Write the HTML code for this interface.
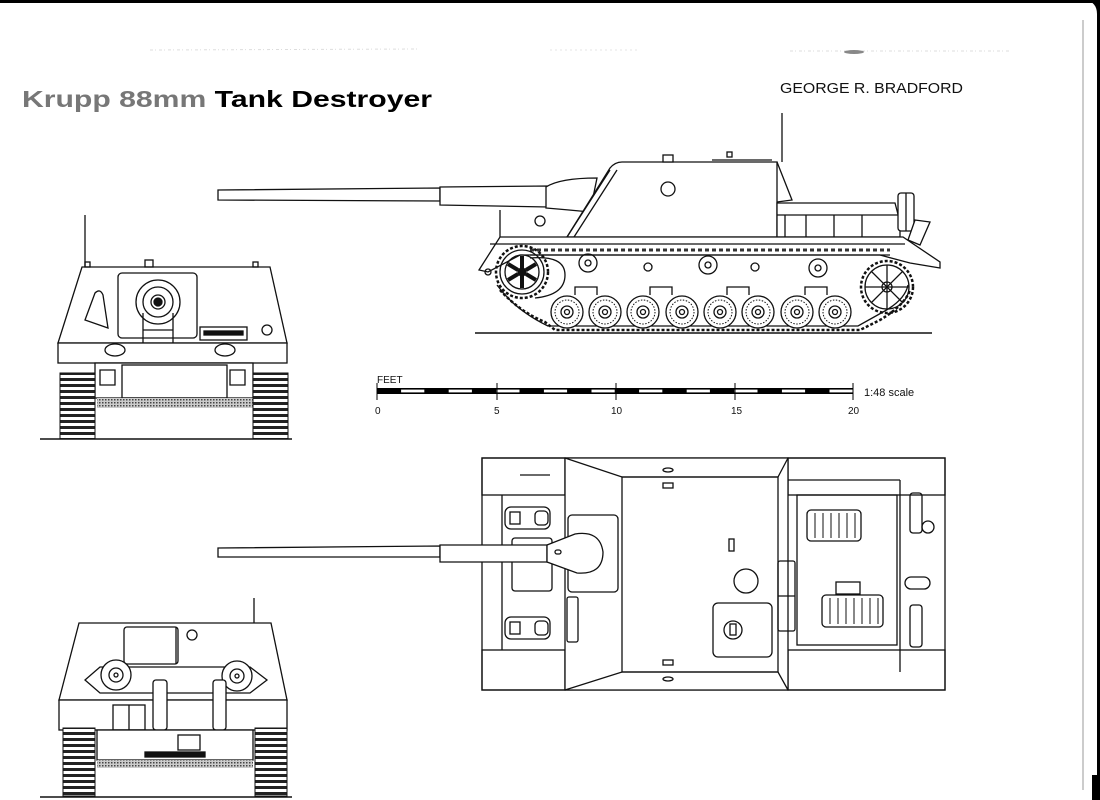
<!DOCTYPE html>
<html><head><meta charset="utf-8"><style>
html,body{margin:0;padding:0;background:#fff;width:1100px;height:800px;overflow:hidden}
svg{display:block}
</style></head><body>
<svg width="1100" height="800" viewBox="0 0 1100 800" xmlns="http://www.w3.org/2000/svg" font-family="Liberation Sans, sans-serif">
<defs>
<pattern id="trk" width="6" height="6" patternUnits="userSpaceOnUse">
<rect width="6" height="6" fill="#fff"/><rect y="0" width="6" height="3" fill="#222"/>
</pattern>
<pattern id="hatch" width="3" height="3" patternUnits="userSpaceOnUse">
<rect width="3" height="3" fill="#ccc"/><rect width="1.5" height="1.5" fill="#444"/>
</pattern>
</defs>
<rect width="1100" height="800" fill="#fff"/>
<rect x="0" y="0" width="1100" height="3" fill="#000"/>
<path d="M1085 0 Q1097 2 1097 14 L1097 800 L1100 800 L1100 0 Z" fill="#000"/>
<line x1="1083" y1="20" x2="1083" y2="790" stroke="#999" stroke-width="1"/>
<rect x="1092" y="775" width="8" height="25" fill="#000"/>
<line x1="150" y1="50" x2="420" y2="49" stroke="#ddd" stroke-width="1" stroke-dasharray="3 2 1 3"/>
<line x1="550" y1="50" x2="640" y2="50" stroke="#e4e4e4" stroke-width="1" stroke-dasharray="2 3"/>
<line x1="790" y1="51" x2="1010" y2="51" stroke="#ddd" stroke-width="1" stroke-dasharray="3 2 1 3"/>
<ellipse cx="854" cy="52" rx="10" ry="2" fill="#888"/>
<text x="22" y="107" font-size="23" font-weight="bold" textLength="410" lengthAdjust="spacingAndGlyphs"><tspan fill="#777">Krupp 88mm </tspan><tspan fill="#000">Tank Destroyer</tspan></text>
<text x="780" y="93" font-size="15" fill="#111" textLength="183" lengthAdjust="spacingAndGlyphs">GEORGE R. BRADFORD</text>

<g fill="none" stroke="#111" stroke-width="1.3">
<line x1="475" y1="333" x2="932" y2="333" stroke-width="1.6"/>
<line x1="782" y1="113" x2="782" y2="162"/>
<path d="M218 190 L440 188 L440 201 L218 200 Z" fill="#fff"/>
<path d="M440 187 L548 186 L548 207 L440 205 Z" fill="#fff"/>
<path d="M546 187 Q560 178 597 178 L590 212 Q570 210 546 208 Z" fill="#fff"/>
<path d="M622 162 L777 162 L777 237 L567 237 L610 168 Q615 162 622 162 Z" fill="#fff"/>
<line x1="567" y1="237" x2="610" y2="170"/><line x1="574" y1="237" x2="617" y2="170"/>
<path d="M777 162 L792 200 L777 202"/>
<rect x="663" y="155" width="10" height="7" fill="#fff"/>
<rect x="727" y="152" width="5" height="5"/>
<line x1="712" y1="160" x2="772" y2="160"/>
<circle cx="668" cy="189" r="7"/>
<path d="M777 203 L895 203 L900 222 L900 237 L777 237 Z" fill="#fff"/>
<line x1="777" y1="215" x2="898" y2="215"/>
<line x1="785" y1="215" x2="785" y2="237"/><line x1="806" y1="215" x2="806" y2="237"/><line x1="834" y1="215" x2="834" y2="237"/><line x1="862" y1="215" x2="862" y2="237"/>
<rect x="898" y="193" width="16" height="38" rx="3" fill="#fff"/>
<line x1="906" y1="193" x2="906" y2="231"/>
<path d="M915 220 L930 222 L920 245 L908 240 Z" fill="#fff"/>
<line x1="500" y1="210" x2="500" y2="237"/>
<circle cx="540" cy="221" r="5"/>
<path d="M500 237 L903 237 L940 262 L940 268 L910 263 L880 255 L520 255 L488 272 L479 270 Z" fill="#fff"/>
<line x1="490" y1="244" x2="905" y2="244"/>
<line x1="530" y1="250" x2="890" y2="250" stroke-width="3" stroke-dasharray="4 3" stroke="#333"/>
<line x1="530" y1="255" x2="890" y2="255"/>
<path d="M500 290 Q520 312 545 322 L555 330 L860 330 L880 320 Q905 305 910 290" stroke-width="2.5" stroke-dasharray="3 2"/>
<path d="M497 285 Q515 310 548 326 L858 326 L883 312 Q905 300 908 285" />
<circle cx="522" cy="272" r="26" stroke-width="2.5" stroke-dasharray="3 2"/>
<circle cx="522" cy="272" r="22"/>
<circle cx="522" cy="272" r="17"/>
<circle cx="522" cy="272" r="4" fill="#111"/>
<g stroke-width="4"><line x1="522" y1="256" x2="522" y2="268"/><line x1="522" y1="276" x2="522" y2="288"/><line x1="508" y1="264" x2="518" y2="270"/><line x1="526" y1="274" x2="536" y2="280"/><line x1="508" y1="280" x2="518" y2="274"/><line x1="526" y1="270" x2="536" y2="264"/></g>
<path d="M530 258 Q565 255 565 275 Q565 295 535 298"/>
<circle cx="488" cy="272" r="3"/>
<circle cx="887" cy="287" r="26" stroke-width="2.5" stroke-dasharray="3 2"/>
<circle cx="887" cy="287" r="22"/>
<circle cx="887" cy="287" r="5"/>
<g><line x1="865" y1="287" x2="909" y2="287"/><line x1="887" y1="265" x2="887" y2="309"/><line x1="871" y1="271" x2="903" y2="303"/><line x1="871" y1="303" x2="903" y2="271"/></g>
<circle cx="588" cy="263" r="9"/><circle cx="588" cy="263" r="3"/>
<circle cx="708" cy="265" r="9"/><circle cx="708" cy="265" r="3"/>
<circle cx="818" cy="268" r="9"/><circle cx="818" cy="268" r="3"/>
<circle cx="648" cy="267" r="4"/><circle cx="755" cy="267" r="4"/>
<path d="M575 295 L575 287 L597 287 L597 295 M650 295 L650 287 L672 287 L672 295 M727 295 L727 287 L749 287 L749 295 M805 295 L805 287 L827 287 L827 295"/>
<g fill="#fff">
<circle cx="567" cy="312" r="16"/><circle cx="605" cy="312" r="16"/><circle cx="643" cy="312" r="16"/><circle cx="682" cy="312" r="16"/><circle cx="720" cy="312" r="16"/><circle cx="758" cy="312" r="16"/><circle cx="797" cy="312" r="16"/><circle cx="835" cy="312" r="16"/>
</g>
<g stroke-width="1" stroke-dasharray="1.5 1.5">
<circle cx="567" cy="312" r="12"/><circle cx="605" cy="312" r="12"/><circle cx="643" cy="312" r="12"/><circle cx="682" cy="312" r="12"/><circle cx="720" cy="312" r="12"/><circle cx="758" cy="312" r="12"/><circle cx="797" cy="312" r="12"/><circle cx="835" cy="312" r="12"/>
</g>
<g>
<circle cx="567" cy="312" r="6"/><circle cx="605" cy="312" r="6"/><circle cx="643" cy="312" r="6"/><circle cx="682" cy="312" r="6"/><circle cx="720" cy="312" r="6"/><circle cx="758" cy="312" r="6"/><circle cx="797" cy="312" r="6"/><circle cx="835" cy="312" r="6"/>
<circle cx="567" cy="312" r="2.5"/><circle cx="605" cy="312" r="2.5"/><circle cx="643" cy="312" r="2.5"/><circle cx="682" cy="312" r="2.5"/><circle cx="720" cy="312" r="2.5"/><circle cx="758" cy="312" r="2.5"/><circle cx="797" cy="312" r="2.5"/><circle cx="835" cy="312" r="2.5"/>
</g>

<line x1="40" y1="439" x2="292" y2="439" stroke-width="1.6"/>
<line x1="85" y1="215" x2="85" y2="267"/>
<path d="M82 267 L270 267 L287 343 L58 343 Z" fill="#fff"/>
<rect x="85" y="262" width="5" height="5"/><rect x="145" y="260" width="8" height="7"/><rect x="253" y="262" width="5" height="5"/>
<rect x="118" y="273" width="79" height="65" rx="4" fill="#fff"/>
<circle cx="158" cy="302" r="22"/><circle cx="158" cy="302" r="15"/><circle cx="158" cy="302" r="7"/><circle cx="158" cy="302" r="4" fill="#111"/>
<path d="M143 313 L143 360 M173 313 L173 360 M143 330 L173 330 M143 345 L173 345"/>
<path d="M85 320 L95 293 Q100 288 103 295 L108 328 Z"/>
<rect x="200" y="327" width="47" height="13" fill="#fff"/><rect x="204" y="331" width="39" height="4" fill="#111"/>
<circle cx="267" cy="330" r="5"/>
<rect x="58" y="343" width="229" height="20" fill="#fff"/>
<ellipse cx="115" cy="350" rx="10" ry="6"/><ellipse cx="225" cy="350" rx="10" ry="6"/>
<rect x="95" y="363" width="158" height="35" fill="#fff"/>
<rect x="122" y="365" width="105" height="33"/>
<path d="M100 370 L115 370 L115 385 L100 385 Z M230 370 L245 370 L245 385 L230 385 Z"/>
<rect x="97" y="398" width="156" height="10" fill="url(#hatch)" stroke="none"/>
<rect x="60" y="373" width="35" height="66" fill="url(#trk)" stroke="#111" stroke-width="1"/>
<rect x="253" y="373" width="35" height="66" fill="url(#trk)" stroke="#111" stroke-width="1"/>

<line x1="40" y1="797" x2="292" y2="797" stroke-width="1.6"/>
<line x1="254" y1="598" x2="254" y2="623"/>
<path d="M79 623 L271 623 L287 700 L59 700 Z" fill="#fff"/>
<rect x="124" y="627" width="54" height="37" rx="3"/>
<line x1="176" y1="627" x2="176" y2="664"/>
<circle cx="192" cy="635" r="5"/>
<path d="M85 680 L100 667 L250 667 L267 680 L250 693 L100 693 Z"/>
<circle cx="116" cy="675" r="15" fill="#fff"/><circle cx="116" cy="675" r="7"/><circle cx="116" cy="675" r="2"/>
<circle cx="237" cy="676" r="15" fill="#fff"/><circle cx="237" cy="676" r="7"/><circle cx="237" cy="676" r="2"/>
<rect x="59" y="700" width="228" height="30" fill="#fff"/>
<rect x="153" y="680" width="14" height="50" rx="3" fill="#fff"/>
<rect x="213" y="680" width="13" height="50" rx="3" fill="#fff"/>
<rect x="113" y="705" width="32" height="25"/><line x1="129" y1="705" x2="129" y2="730"/>
<rect x="97" y="730" width="156" height="30" fill="#fff"/>
<rect x="178" y="735" width="22" height="15"/>
<rect x="145" y="752" width="60" height="5" fill="#111"/>
<rect x="97" y="760" width="156" height="8" fill="url(#hatch)" stroke="none"/>
<rect x="63" y="728" width="32" height="68" fill="url(#trk)" stroke="#111" stroke-width="1"/>
<rect x="255" y="728" width="32" height="68" fill="url(#trk)" stroke="#111" stroke-width="1"/>

<rect x="482" y="458" width="463" height="232" fill="#fff"/>
<rect x="482" y="458" width="83" height="37"/>
<rect x="788" y="458" width="157" height="37"/>
<rect x="482" y="650" width="83" height="40"/>
<rect x="788" y="650" width="157" height="40"/>
<line x1="502" y1="495" x2="502" y2="650"/>
<line x1="900" y1="480" x2="900" y2="672"/>
<path d="M565 458 L788 458 L788 690 L565 690 Z" fill="#fff"/>
<path d="M565 458 L622 477 L778 477 L788 458 M565 690 L622 672 L778 672 L788 690"/>
<rect x="622" y="477" width="156" height="195"/>
<line x1="788" y1="480" x2="900" y2="480"/>
<rect x="797" y="495" width="100" height="150"/>
<rect x="807" y="510" width="54" height="31" rx="4"/>
<g stroke-width="1"><line x1="815" y1="513" x2="815" y2="538"/><line x1="823" y1="513" x2="823" y2="538"/><line x1="831" y1="513" x2="831" y2="538"/><line x1="839" y1="513" x2="839" y2="538"/><line x1="847" y1="513" x2="847" y2="538"/><line x1="855" y1="513" x2="855" y2="538"/></g>
<rect x="822" y="595" width="61" height="32" rx="4"/>
<g stroke-width="1"><line x1="830" y1="598" x2="830" y2="624"/><line x1="838" y1="598" x2="838" y2="624"/><line x1="846" y1="598" x2="846" y2="624"/><line x1="854" y1="598" x2="854" y2="624"/><line x1="862" y1="598" x2="862" y2="624"/><line x1="870" y1="598" x2="870" y2="624"/><line x1="878" y1="598" x2="878" y2="624"/></g>
<rect x="836" y="582" width="24" height="12"/>
<rect x="778" y="561" width="17" height="70" rx="2"/>
<line x1="778" y1="596" x2="795" y2="596"/>
<circle cx="746" cy="581" r="12"/>
<rect x="713" y="603" width="59" height="54" rx="5"/>
<circle cx="733" cy="630" r="9"/><rect x="730" y="624" width="6" height="11"/>
<rect x="729" y="539" width="5" height="12"/>
<rect x="663" y="483" width="10" height="5"/><rect x="663" y="660" width="10" height="5"/>
<ellipse cx="668" cy="470" rx="5" ry="2"/><ellipse cx="668" cy="679" rx="5" ry="2"/>
<rect x="568" y="515" width="50" height="77" rx="4" fill="#fff"/>
<rect x="512" y="538" width="40" height="53" rx="3"/>
<rect x="567" y="597" width="11" height="45" rx="2"/>
<rect x="505" y="507" width="45" height="22" rx="6"/><rect x="505" y="617" width="45" height="22" rx="6"/>
<rect x="535" y="511" width="13" height="14" rx="4"/><rect x="535" y="621" width="13" height="14" rx="4"/>
<rect x="510" y="512" width="10" height="12"/><rect x="510" y="622" width="10" height="12"/>
<line x1="520" y1="475" x2="550" y2="475"/>
<path d="M218 548 L440 546 L440 557 L218 557 Z" fill="#fff"/>
<path d="M440 545 L547 545 L547 562 L440 562 Z" fill="#fff"/>
<path d="M547 545 L575 534 Q600 530 603 552 Q603 575 577 573 L547 562 Z" fill="#fff"/>
<rect x="555" y="550" width="6" height="4" rx="2"/>
<rect x="910" y="493" width="12" height="40" rx="3"/>
<rect x="910" y="605" width="12" height="42" rx="3"/>
<circle cx="928" cy="527" r="6"/><rect x="905" y="577" width="25" height="12" rx="6"/>
</g>
<g>
<rect x="377" y="388" width="476" height="6" fill="#000"/>
<g fill="#fff" stroke="#000" stroke-width="0.6">
<rect x="400.8" y="389.3" width="23.8" height="3.4"/><rect x="448.4" y="389.3" width="23.8" height="3.4"/><rect x="496" y="389.3" width="23.8" height="3.4"/><rect x="543.6" y="389.3" width="23.8" height="3.4"/><rect x="591.2" y="389.3" width="23.8" height="3.4"/><rect x="638.8" y="389.3" width="23.8" height="3.4"/><rect x="686.4" y="389.3" width="23.8" height="3.4"/><rect x="734" y="389.3" width="23.8" height="3.4"/><rect x="781.6" y="389.3" width="23.8" height="3.4"/><rect x="829.2" y="389.3" width="23.8" height="3.4"/>
</g>
<g stroke="#000" stroke-width="1"><line x1="377" y1="383" x2="377" y2="400"/><line x1="497" y1="383" x2="497" y2="400"/><line x1="616" y1="383" x2="616" y2="400"/><line x1="735" y1="383" x2="735" y2="400"/><line x1="853" y1="383" x2="853" y2="400"/></g>
<g font-size="10" fill="#111"><text x="377" y="383">FEET</text><text x="375" y="414">0</text><text x="494" y="414">5</text><text x="611" y="414">10</text><text x="731" y="414">15</text><text x="848" y="414">20</text><text x="864" y="396" font-size="11">1:48 scale</text></g>
</g>
</svg>
</body></html>
